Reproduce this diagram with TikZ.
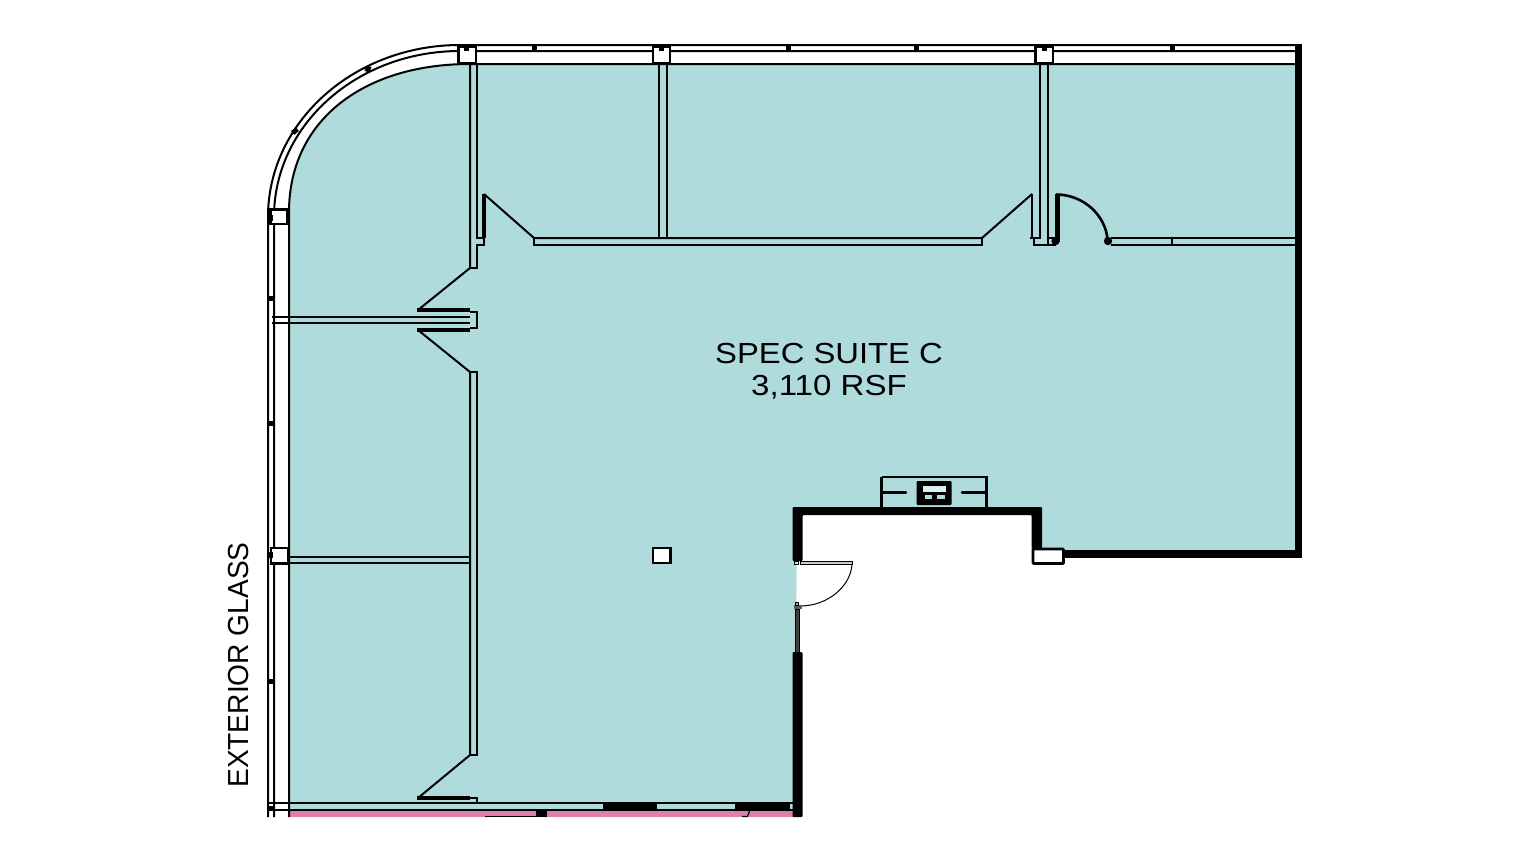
\documentclass[tikz,border=0pt]{standalone}
\usepackage{fontspec}
\setmainfont{Liberation Sans}
\definecolor{suite}{HTML}{AFDBDC}
\definecolor{corridor}{HTML}{DF7FAE}
\tikzset{
  ln/.style={draw=black,line width=2pt},
  thin line/.style={draw=black,line width=1.2pt},
  heavy/.style={draw=black,line width=3.8pt},
  solid block/.style={fill=black,draw=none},
  column/.style={draw=black,line width=2.2pt,fill=white},
  label text/.style={text=black,inner sep=0pt,font=\fontsize{29}{29}\selectfont}
}
\begin{document}
\begin{tikzpicture}[x=1pt,y=-1pt]
\useasboundingbox (0,0) rectangle (1530,860);
% fills
\fill[suite] (289,817) -- (289,212) .. controls (289,120) and (364,64) .. (470,64) -- (1296,64) -- (1296,553) -- (1064,553) -- (1037,548) -- (1037,512) -- (797,512) -- (795,817) -- cycle;
\fill[white] (797,512) rectangle (1037,548);
\fill[corridor] (289,810) rectangle (795,817);
% glass
\draw[ln] (268,817) -- (268,217) .. controls (268,122) and (354,45) .. (460,45) -- (1298,45);
\draw[ln] (274,817) -- (274,217) .. controls (274,125) and (357,51) .. (460,51) -- (1296,51);
\draw[ln] (289,817) -- (289,212) .. controls (289,120) and (364,64) .. (470,64) -- (1296,64);
% mullion dots
\foreach \x in {534,788,916,1172} \fill (\x-2.5,44.5) rectangle (\x+2.5,50.5);
\foreach \y in {298,423,681,808} \fill (267,\y-2.5) rectangle (273,\y+2.5);
\fill[rotate around={-25:(368,69)}] (365.5,66) rectangle (370.5,72);
\fill[rotate around={-50:(295,131)}] (292.5,128) rectangle (297.5,134);
% columns
\draw[column] (458.5,46.5) rectangle (476,63);
\draw[column] (653,46.5) rectangle (670,63);
\draw[column] (1035.5,46.5) rectangle (1053,63);
\draw[column] (270.5,209.5) rectangle (287,224);
\draw[column] (271,548) rectangle (288,563.5);
\draw[column] (653,548) rectangle (670.5,563);
\foreach \x in {466,661,1044} \fill (\x-2.5,44.5) rectangle (\x+2.5,50.5);
\fill (267,214.5) rectangle (273,221);
\fill (267,552) rectangle (273,558);
% partitions north-west
\draw[ln] (470,64) -- (470,268) -- (418,310);
\draw[ln] (477,64) -- (477,238) -- (484,238);
\draw[heavy] (484,194) -- (484,238);
\draw[ln] (484,194) -- (534,238) -- (982,238) -- (1032,194);
\draw[ln] (484,238) -- (484,245) -- (477,245) -- (477,268) -- (470,268);
\draw[ln] (534,238) -- (534,245) -- (982,245) -- (982,238);
\draw[ln] (659,64) -- (659,238);
\draw[ln] (667,64) -- (667,238);
\draw[ln] (1040,64) -- (1040,238);
\draw[ln] (1048,64) -- (1048,245);
\draw[line width=2.8pt] (1032,194) -- (1032,238);
\draw[ln] (1030,238) -- (1041,238);
\draw[ln] (1034,238) -- (1034,245) -- (1056,245);
\draw[ln] (1048,238) -- (1056,238);
% door north-east
\draw[line width=5.4pt] (1057.5,194) -- (1057.5,242);
\draw[line width=2.6pt] (1056,194.5) .. controls (1084,194.5) and (1106,216) .. (1107.5,240);
\fill (1055.5,241) circle (4.2);
\fill (1108,241) circle (4.2);
\draw[ln] (1111,238) -- (1296,238);
\draw[ln] (1111,245) -- (1296,245);
\draw[ln] (1172,238) -- (1172,245);
% west partitions
\draw[heavy] (417,310) -- (470,310);
\draw[ln] (272,317) -- (470,317);
\draw[ln] (272,323) -- (470,323);
\draw[ln] (470,312) -- (477,312) -- (477,328) -- (470,328);
\draw[heavy] (417,330) -- (470,330);
\draw[ln] (418,330) -- (470,372) -- (470,755) -- (418,798);
\draw[ln] (470,372) -- (477,372) -- (477,755) -- (470,755);
\draw[heavy] (417,798) -- (470,798);
\draw[ln] (470,798) -- (477,798) -- (477,803);
\draw[ln] (289,557) -- (470,557);
\draw[ln] (289,563) -- (470,563);
% south edge
\draw[ln] (268,803) -- (795,803);
\draw[ln] (268,809.5) -- (795,809.5);
\fill (603,802) rectangle (657,810.5);
\fill (735,802) rectangle (790,810.5);
\fill (536,809) rectangle (547,817);
\draw[thin line] (485,816.5) -- (536,816.5);
\draw[thin line] (749.5,811) -- (747.5,816.5) -- (742,816.5);
% heavy walls
\fill[solid block] (1295,44) rectangle (1302,557);
\fill[solid block] (1063,549.5) rectangle (1302,557.5);
\fill[solid block,rounded corners=1pt] (792.5,507) -- (1042,507) -- (1042,549) -- (1031.5,549) -- (1031.5,515) -- (802.5,515) -- (802.5,561) -- (792.5,561) -- cycle;
\fill[solid block,rounded corners=1pt] (792.5,652) rectangle (802.5,817);
\draw[draw=black,line width=2.6pt,fill=white,rounded corners=0.8pt] (1033,549) rectangle (1063.5,563.5);
% door south
\draw[draw=black,line width=0.9pt,fill=gray!40] (800.5,561.5) rectangle (852,564);
\draw[line width=1pt] (852,564) .. controls (851,586) and (828,606) .. (800,606);
\fill[gray!70!black] (794,605) rectangle (801.5,609);
\draw[draw=black,line width=0.8pt,fill=gray!70] (795.5,602.5) rectangle (798.5,605);
\draw[draw=black,line width=0.9pt,fill=gray!50!black] (795.5,609) rectangle (799,652);
\draw[line width=0.6pt] (794.5,561) rectangle (798,564);
% counter and sink
\draw[ln,line width=2.4pt] (881.5,477) -- (986.5,477) -- (986.5,507);
\draw[ln,line width=2.4pt] (881.5,477) -- (881.5,507);
\draw[line width=2.4pt,line cap=round] (882,492.5) -- (906,492.5);
\draw[line width=2.4pt,line cap=round] (962,492.5) -- (986,492.5);
\fill[rounded corners=1pt] (916.5,481) rectangle (951.5,505);
\fill[suite!45!white] (923,486) rectangle (945.5,492);
\fill[suite] (924.5,495) rectangle (932,499);
\fill[suite] (937,495) rectangle (944.5,499);
% texts
\node[label text,xscale=1.13] (suite name) at (829,353.5) {SPEC SUITE C};
\node[label text,xscale=1.14] (suite area) at (829,387.5) {3,110 RSF};
\node[label text,rotate=90,xscale=.97] (glass label) at (239,665) {EXTERIOR GLASS};
\end{tikzpicture}
\end{document}
